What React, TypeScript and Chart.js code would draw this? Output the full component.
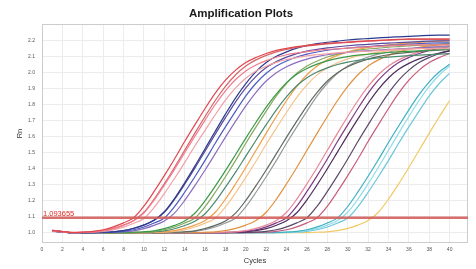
import React, { useEffect, useRef } from "react";
import { Chart, registerables } from "chart.js";

Chart.register(...registerables);

// ---------- data ----------
const cycles = [1, 2, 3, 4, 5, 6, 7, 8, 9, 10, 11, 12, 13, 14, 15, 16, 17, 18, 19, 20, 21, 22, 23, 24, 25, 26, 27, 28, 29, 30, 31, 32, 33, 34, 35, 36, 37, 38, 39, 40];
const thresholdValue = 1.093655;
const thresholdLabel = "1.093655";
const xMin = 0;
const xMax = 41.8;
const yMin = 0.936;
const yMax = 2.304;
const xTickValues = [0, 2, 4, 6, 8, 10, 12, 14, 16, 18, 20, 22, 24, 26, 28, 30, 32, 34, 36, 38, 40];
const yTickValues = [1.0, 1.1, 1.2, 1.3, 1.4, 1.5, 1.6, 1.7, 1.8, 1.9, 2.0, 2.1, 2.2];

const w01 = [1.014, 1.007, 1.002, 1.004, 1.009, 1.019, 1.037, 1.062, 1.094, 1.166, 1.258, 1.357, 1.461, 1.57, 1.674, 1.776, 1.872, 1.953, 2.016, 2.063, 2.095, 2.12, 2.139, 2.152, 2.163, 2.171, 2.177, 2.183, 2.187, 2.191, 2.195, 2.198, 2.202, 2.205, 2.208, 2.21, 2.21, 2.21, 2.21, 2.21];
const w02 = [1.01, 1.005, 1.001, 1.003, 1.006, 1.013, 1.026, 1.047, 1.075, 1.124, 1.204, 1.297, 1.396, 1.5, 1.603, 1.704, 1.801, 1.887, 1.957, 2.011, 2.048, 2.075, 2.096, 2.112, 2.123, 2.132, 2.139, 2.145, 2.149, 2.153, 2.157, 2.161, 2.164, 2.167, 2.17, 2.173, 2.174, 2.174, 2.174, 2.174];
const w03 = [1.016, 1.008, 1.001, 1.003, 1.006, 1.013, 1.027, 1.048, 1.077, 1.128, 1.21, 1.306, 1.408, 1.515, 1.622, 1.726, 1.826, 1.914, 1.987, 2.042, 2.08, 2.108, 2.13, 2.146, 2.158, 2.167, 2.174, 2.18, 2.185, 2.189, 2.193, 2.197, 2.2, 2.203, 2.206, 2.209, 2.21, 2.21, 2.21, 2.21];
const w04 = [1.012, 1.006, 1.0, 1.002, 1.004, 1.009, 1.018, 1.035, 1.059, 1.089, 1.158, 1.245, 1.339, 1.438, 1.542, 1.64, 1.737, 1.828, 1.905, 1.965, 2.01, 2.04, 2.064, 2.082, 2.094, 2.105, 2.112, 2.118, 2.124, 2.128, 2.131, 2.135, 2.138, 2.142, 2.145, 2.148, 2.15, 2.15, 2.15, 2.15];
const w05 = [1.013, 1.006, 1.0, 1.0, 1.001, 1.003, 1.006, 1.013, 1.028, 1.049, 1.079, 1.131, 1.214, 1.312, 1.416, 1.525, 1.634, 1.741, 1.843, 1.932, 2.007, 2.063, 2.102, 2.13, 2.153, 2.169, 2.181, 2.19, 2.197, 2.204, 2.209, 2.213, 2.217, 2.221, 2.224, 2.227, 2.23, 2.233, 2.234, 2.234];
const w06 = [1.011, 1.005, 1.0, 1.0, 1.0, 1.002, 1.004, 1.009, 1.019, 1.036, 1.061, 1.092, 1.163, 1.253, 1.35, 1.452, 1.559, 1.661, 1.76, 1.855, 1.934, 1.996, 2.042, 2.073, 2.098, 2.116, 2.129, 2.14, 2.148, 2.153, 2.159, 2.163, 2.167, 2.171, 2.174, 2.178, 2.181, 2.184, 2.186, 2.186];
const w07 = [1.009, 1.004, 1.0, 1.0, 1.0, 1.001, 1.003, 1.006, 1.012, 1.026, 1.046, 1.074, 1.123, 1.202, 1.294, 1.392, 1.494, 1.597, 1.697, 1.793, 1.877, 1.948, 2.0, 2.037, 2.064, 2.085, 2.1, 2.112, 2.12, 2.127, 2.133, 2.138, 2.141, 2.145, 2.149, 2.152, 2.155, 2.158, 2.161, 2.162];
const w08 = [1.015, 1.007, 1.0, 1.0, 1.001, 1.003, 1.006, 1.013, 1.027, 1.048, 1.076, 1.127, 1.208, 1.303, 1.404, 1.51, 1.616, 1.719, 1.818, 1.905, 1.977, 2.032, 2.069, 2.097, 2.119, 2.135, 2.146, 2.155, 2.162, 2.168, 2.173, 2.177, 2.181, 2.185, 2.188, 2.191, 2.194, 2.197, 2.198, 2.198];
const w09 = [1.012, 1.006, 1, 1, 1, 1, 1, 1.001, 1.003, 1.006, 1.012, 1.026, 1.046, 1.073, 1.122, 1.2, 1.291, 1.388, 1.489, 1.591, 1.69, 1.785, 1.868, 1.938, 1.99, 2.026, 2.053, 2.074, 2.089, 2.1, 2.109, 2.115, 2.121, 2.126, 2.13, 2.133, 2.137, 2.14, 2.143, 2.146];
const w10 = [1.01, 1.005, 1, 1, 1, 1, 1, 1, 1.002, 1.004, 1.009, 1.019, 1.036, 1.061, 1.092, 1.163, 1.253, 1.35, 1.452, 1.559, 1.661, 1.76, 1.855, 1.934, 1.996, 2.042, 2.073, 2.098, 2.116, 2.129, 2.14, 2.148, 2.153, 2.159, 2.163, 2.167, 2.171, 2.174, 2.178, 2.181];
const w11 = [1.013, 1.006, 1, 1, 1, 1, 1, 1, 1.001, 1.003, 1.006, 1.012, 1.025, 1.045, 1.072, 1.119, 1.195, 1.285, 1.379, 1.479, 1.578, 1.675, 1.768, 1.85, 1.918, 1.969, 2.004, 2.03, 2.051, 2.066, 2.077, 2.085, 2.092, 2.097, 2.102, 2.106, 2.109, 2.113, 2.116, 2.119];
const w12 = [1.014, 1.007, 1, 1, 1, 1, 1, 1, 1, 1.001, 1.003, 1.006, 1.013, 1.027, 1.048, 1.077, 1.128, 1.21, 1.306, 1.408, 1.515, 1.622, 1.726, 1.826, 1.914, 1.987, 2.042, 2.08, 2.108, 2.13, 2.146, 2.158, 2.167, 2.174, 2.18, 2.185, 2.189, 2.193, 2.197, 2.2];
const w13 = [1.01, 1.005, 1, 1, 1, 1, 1, 1, 1, 1, 1.002, 1.004, 1.009, 1.018, 1.036, 1.06, 1.091, 1.161, 1.25, 1.346, 1.447, 1.553, 1.654, 1.753, 1.846, 1.924, 1.986, 2.031, 2.062, 2.086, 2.105, 2.117, 2.128, 2.136, 2.142, 2.148, 2.151, 2.155, 2.159, 2.162];
const w14 = [1.012, 1.006, 1, 1, 1, 1, 1, 1, 1, 1, 1, 1.001, 1.003, 1.006, 1.012, 1.026, 1.046, 1.074, 1.123, 1.202, 1.294, 1.392, 1.494, 1.597, 1.697, 1.793, 1.877, 1.948, 2.0, 2.037, 2.064, 2.085, 2.1, 2.112, 2.12, 2.127, 2.133, 2.138, 2.141, 2.145];
const w15 = [1.011, 1.005, 1, 1, 1, 1, 1, 1, 1, 1, 1, 1, 1.002, 1.004, 1.009, 1.019, 1.036, 1.061, 1.092, 1.163, 1.253, 1.35, 1.452, 1.559, 1.661, 1.76, 1.855, 1.934, 1.996, 2.042, 2.073, 2.098, 2.116, 2.129, 2.14, 2.148, 2.153, 2.159, 2.163, 2.167];
const w16 = [1.013, 1.006, 1, 1, 1, 1, 1, 1, 1, 1, 1, 1, 1, 1, 1.001, 1.003, 1.006, 1.013, 1.027, 1.048, 1.077, 1.128, 1.21, 1.306, 1.408, 1.515, 1.622, 1.726, 1.826, 1.914, 1.987, 2.042, 2.08, 2.108, 2.13, 2.146, 2.158, 2.167, 2.174, 2.18];
const w17 = [1.01, 1.005, 1, 1, 1, 1, 1, 1, 1, 1, 1, 1, 1, 1, 1, 1, 1.001, 1.003, 1.006, 1.013, 1.027, 1.048, 1.077, 1.128, 1.21, 1.306, 1.408, 1.515, 1.622, 1.726, 1.826, 1.914, 1.987, 2.042, 2.08, 2.108, 2.13, 2.146, 2.158, 2.167];
const w18 = [1.014, 1.007, 1, 1, 1, 1, 1, 1, 1, 1, 1, 1, 1, 1, 1, 1, 1, 1.002, 1.004, 1.009, 1.019, 1.037, 1.062, 1.094, 1.166, 1.258, 1.357, 1.461, 1.57, 1.674, 1.776, 1.872, 1.953, 2.016, 2.063, 2.095, 2.12, 2.139, 2.152, 2.163];
const w19 = [1.012, 1.006, 1, 1, 1, 1, 1, 1, 1, 1, 1, 1, 1, 1, 1, 1, 1, 1.001, 1.003, 1.006, 1.013, 1.026, 1.047, 1.075, 1.125, 1.206, 1.3, 1.4, 1.505, 1.61, 1.711, 1.809, 1.896, 1.967, 2.021, 2.058, 2.086, 2.107, 2.123, 2.135];
const w20 = [1.011, 1.005, 1, 1, 1, 1, 1, 1, 1, 1, 1, 1, 1, 1, 1, 1, 1, 1, 1, 1.002, 1.004, 1.009, 1.019, 1.037, 1.062, 1.094, 1.166, 1.258, 1.357, 1.461, 1.57, 1.674, 1.776, 1.872, 1.953, 2.016, 2.063, 2.095, 2.12, 2.139];
const w21 = [1.013, 1.006, 1, 1, 1, 1, 1, 1, 1, 1, 1, 1, 1, 1, 1, 1, 1, 1, 1, 1, 1.002, 1.004, 1.009, 1.019, 1.037, 1.062, 1.094, 1.166, 1.258, 1.357, 1.461, 1.57, 1.674, 1.776, 1.872, 1.953, 2.016, 2.063, 2.095, 2.12];
const w22 = [1.01, 1.005, 1, 1, 1, 1, 1, 1, 1, 1, 1, 1, 1, 1, 1, 1, 1, 1, 1, 1, 1, 1, 1.002, 1.004, 1.009, 1.019, 1.037, 1.061, 1.093, 1.164, 1.255, 1.353, 1.456, 1.564, 1.667, 1.768, 1.863, 1.943, 2.006, 2.052];
const w23 = [1.012, 1.006, 1, 1, 1, 1, 1, 1, 1, 1, 1, 1, 1, 1, 1, 1, 1, 1, 1, 1, 1, 1, 1.001, 1.003, 1.006, 1.013, 1.027, 1.048, 1.077, 1.128, 1.21, 1.306, 1.408, 1.515, 1.622, 1.726, 1.826, 1.914, 1.987, 2.042];
const w24 = [1.011, 1.005, 1, 1, 1, 1, 1, 1, 1, 1, 1, 1, 1, 1, 1, 1, 1, 1, 1, 1, 1, 1, 1, 1.002, 1.004, 1.009, 1.019, 1.036, 1.061, 1.092, 1.163, 1.253, 1.35, 1.452, 1.559, 1.661, 1.76, 1.855, 1.934, 1.996];
const w25 = [1.012, 1.006, 1, 1, 1, 1, 1, 1, 1, 1, 1, 1, 1, 1, 1, 1, 1, 1, 1, 1, 1, 1, 1, 1, 1, 1.001, 1.003, 1.006, 1.013, 1.027, 1.048, 1.077, 1.128, 1.21, 1.306, 1.408, 1.515, 1.622, 1.726, 1.826];

const wellSeries = [w01, w02, w03, w04, w05, w06, w07, w08, w09, w10, w11, w12, w13, w14, w15, w16, w17, w18, w19, w20, w21, w22, w23, w24, w25];
const wellColors = [
  "#e0474c", "#f07c8c", "#d8626a", "#f2a0a8",
  "#2c3a8e", "#4a5cc2", "#8a6cc0", "#5a4a9a",
  "#3a9a48", "#86a85e", "#4a8a70",
  "#f0a04a", "#f6c48a",
  "#5e6a60", "#9a9a9a",
  "#e0923e", "#e8869a", "#7d3b82", "#4b2b5b",
  "#5a4a6a", "#c85c7c",
  "#3fb0c2", "#8fdcea", "#6cc6dc",
  "#f2c864",
];

const FONT = "Arial, 'Liberation Sans', Helvetica, sans-serif";

export default function App() {
  const canvasRef = useRef<HTMLCanvasElement | null>(null);

  useEffect(() => {
    const canvas = canvasRef.current;
    if (!canvas) return;

    const framePlugin = {
      id: "frameAndThresholdLabel",
      beforeDatasetsDraw(chart: any) {
        const { ctx, chartArea } = chart;
        ctx.save();
        ctx.strokeStyle = "#cccccc";
        ctx.lineWidth = 1;
        ctx.strokeRect(
          Math.round(chartArea.left) + 0.5,
          Math.round(chartArea.top) + 0.5,
          Math.round(chartArea.right - chartArea.left) - 1,
          Math.round(chartArea.bottom - chartArea.top) - 1
        );
        ctx.restore();
      },
      afterDatasetsDraw(chart: any) {
        const { ctx, chartArea, scales } = chart;
        const y = scales.y.getPixelForValue(thresholdValue);
        ctx.save();
        ctx.fillStyle = "#e02a24";
        ctx.font = `7.5px ${FONT}`;
        ctx.textBaseline = "bottom";
        ctx.textAlign = "left";
        ctx.fillText(thresholdLabel, chartArea.left + 1, y - 0.5);
        ctx.restore();
      },
    };

    const wellDatasets = wellSeries.map((series, i) => ({
      label: `Well ${i + 1}`,
      data: cycles.map((c, j) => ({ x: c, y: series[j] })),
      borderColor: wellColors[i],
      backgroundColor: wellColors[i],
      borderWidth: 1.2,
      pointRadius: 0,
      fill: false,
      cubicInterpolationMode: "monotone" as const,
    }));

    const thresholdDataset = {
      label: "Threshold",
      data: [
        { x: xMin, y: thresholdValue },
        { x: xMax, y: thresholdValue },
      ],
      borderColor: "rgba(210,92,88,0.88)",
      backgroundColor: "rgba(210,92,88,0.88)",
      borderWidth: 2.6,
      pointRadius: 0,
      fill: false,
    };

    const chart = new Chart(canvas, {
      type: "line",
      data: { datasets: [thresholdDataset, ...wellDatasets] as any },
      plugins: [framePlugin],
      options: {
        animation: false,
        responsive: false,
        devicePixelRatio: 1,
        layout: { padding: { left: 14, right: 8, top: 0, bottom: 0 } },
        plugins: {
          legend: { display: false },
          tooltip: { enabled: false },
          title: {
            display: true,
            text: "Amplification Plots",
            color: "#1a1a1a",
            font: { family: FONT, size: 11.5, weight: "bold" },
            padding: { top: 6.5, bottom: 3.7 },
          },
        },
        scales: {
          x: {
            type: "linear",
            min: xMin,
            max: xMax,
            afterBuildTicks: (s: any) => {
              s.ticks = xTickValues.map((v) => ({ value: v }));
            },
            afterFit: (s: any) => {
              s.height = 26;
            },
            grid: { color: "#ececec", drawTicks: false },
            border: { display: false },
            ticks: {
              padding: 4,
              autoSkip: false,
              maxRotation: 0,
              color: "#555",
              font: { family: FONT, size: 5 },
              callback: (v: any) => String(v),
            },
            title: {
              display: true,
              text: "Cycles",
              color: "#333",
              font: { family: FONT, size: 7.5 },
              padding: { top: 0, bottom: 3.8 },
            },
          },
          y: {
            type: "linear",
            min: yMin,
            max: yMax,
            afterBuildTicks: (s: any) => {
              s.ticks = yTickValues.map((v) => ({ value: v }));
            },
            afterFit: (s: any) => {
              s.width = 28;
            },
            grid: { color: "#ececec", drawTicks: false },
            border: { display: false },
            ticks: {
              padding: 7,
              autoSkip: false,
              color: "#555",
              font: { family: FONT, size: 5 },
              callback: (v: any) => Number(v).toFixed(1),
            },
            title: {
              display: true,
              text: "Rn",
              color: "#333",
              font: { family: FONT, size: 7.5 },
              padding: { top: 1.5, bottom: 0 },
            },
          },
        },
      } as any,
    });

    return () => chart.destroy();
  }, []);

  return (
    <div style={{ position: "fixed", left: 0, top: 0, width: 476, height: 269, background: "#ffffff" }}>
      <canvas ref={canvasRef} width={476} height={269} style={{ display: "block", width: 476, height: 269 }} />
    </div>
  );
}
